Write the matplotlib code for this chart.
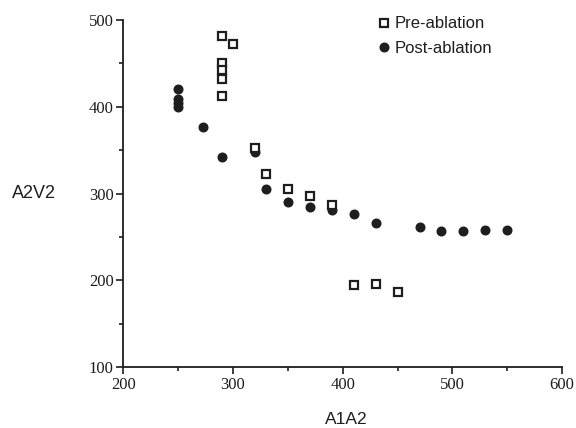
import matplotlib
matplotlib.use("Agg")
import matplotlib.pyplot as plt
from matplotlib.ticker import MultipleLocator

# ── data ──────────────────────────────────────────────────────────────────
pre_x = [290, 300, 290, 290, 290, 290, 320, 330, 350, 370, 390, 410, 430, 450]
pre_y = [482, 472, 451, 442, 432, 412, 352, 323, 305, 297, 287, 195, 196, 186]

post_x = [250, 250, 250, 250, 273, 290, 320, 330, 350, 370, 390, 410, 430,
          470, 490, 510, 530, 550]
post_y = [420, 409, 404, 400, 377, 342, 348, 305, 290, 285, 281, 276, 266,
          261, 257, 257, 258, 258]

INK = "#1e1e1e"
SANS = "Liberation Sans"
SERIF = "Liberation Serif"

fig = plt.figure(figsize=(5.76, 4.28), dpi=100)
fig.patch.set_facecolor("white")
ax = fig.add_axes([0.214, 0.1425, 0.762, 0.8105])

ax.plot(pre_x, pre_y, linestyle="none", marker="s", markersize=5.6,
        markerfacecolor="white", markeredgecolor=INK, markeredgewidth=1.6,
        label="Pre-ablation", zorder=3)
ax.plot(post_x, post_y, linestyle="none", marker="o", markersize=6.2,
        markerfacecolor=INK, markeredgecolor=INK, label="Post-ablation",
        zorder=2)

ax.set_xlim(200, 600)
ax.set_ylim(100, 500)
ax.xaxis.set_major_locator(MultipleLocator(100))
ax.xaxis.set_minor_locator(MultipleLocator(50))
ax.yaxis.set_major_locator(MultipleLocator(100))
ax.yaxis.set_minor_locator(MultipleLocator(50))

for side in ("top", "right"):
    ax.spines[side].set_visible(False)
for side in ("left", "bottom"):
    ax.spines[side].set_linewidth(1.3)
    ax.spines[side].set_color(INK)

ax.tick_params(which="major", direction="out", length=5, width=1.2,
               colors=INK, labelsize=12, pad=2)
ax.tick_params(which="minor", direction="out", length=3, width=1.2,
               colors=INK)
for lab in ax.get_xticklabels() + ax.get_yticklabels():
    lab.set_fontfamily(SERIF)

ax.set_xlabel("A1A2", fontfamily=SANS, fontsize=12.5, color=INK)
ax.xaxis.set_label_coords(0.507, -0.163)
ax.xaxis.label.set_va("baseline")
ax.set_ylabel("A2V2", fontfamily=SANS, fontsize=13, color=INK,
              rotation=0, ha="left", va="center")
ax.yaxis.set_label_coords(-0.2535, 0.501)

leg = ax.legend(loc="upper left", bbox_to_anchor=(0.561, 1.03),
                frameon=False, handlelength=1.0, handletextpad=0.1,
                labelspacing=0.55, borderaxespad=0,
                prop={"family": SANS, "size": 12})
for t in leg.get_texts():
    t.set_color(INK)

fig.savefig("out.png", dpi=100, facecolor="white")
